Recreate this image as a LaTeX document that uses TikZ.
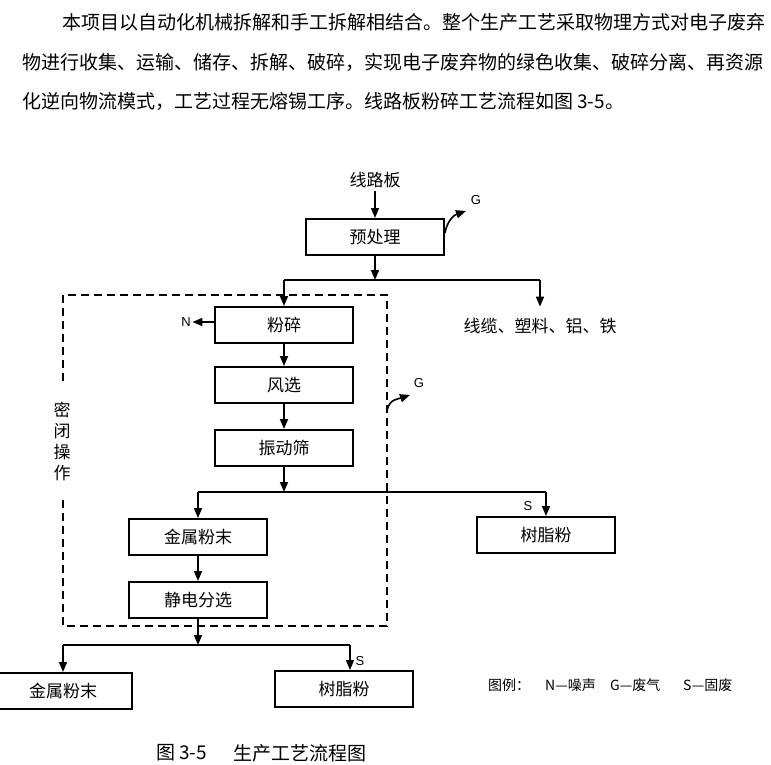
\documentclass[tikz,border=0pt]{standalone}
\usepackage{fontspec}
\setmainfont{Noto Sans CJK SC}
\newfontfamily\lat{Liberation Sans}
\usetikzlibrary{arrows.meta}
\begin{document}
\begin{tikzpicture}[x=1pt,y=-1pt]
  \tikzstyle{texte}=[anchor=west, inner sep=0pt, font=\fontsize{19}{19}\selectfont]
  \tikzstyle{boite}=[draw=black, line width=2pt, minimum width=138pt,
  minimum height=36pt, inner sep=0pt, font=\fontsize{17}{17}\selectfont]
  \tikzstyle{fleche}=[-{Triangle[length=10pt,width=8pt]}, line width=1.6pt]
  \tikzstyle{ligne}=[line width=1.2pt]
  \tikzstyle{pointille}=[line width=2pt, dash pattern=on 8pt off 5pt]
  \tikzstyle{marque}=[inner sep=1.5pt, font=\lat\fontsize{13}{13}\selectfont]
  \tikzstyle{legende}=[anchor=west, inner sep=0pt, font=\fontsize{14}{14}\selectfont]
  \useasboundingbox (0,0) rectangle (771,764);
  % texte du rapport
  \node[texte] (l1) at (62,22) {本项目以自动化机械拆解和手工拆解相结合。整个生产工艺采取物理方式对电子废弃};
  \node[texte] (l2) at (22,62) {物进行收集、运输、储存、拆解、破碎，实现电子废弃物的绿色收集、破碎分离、再资源};
  \node[texte] (l3) at (22,101) {化逆向物流模式，工艺过程无熔锡工序。线路板粉碎工艺流程如图 3-5。};
  % etapes
  \foreach \n/\x/\y/\t in {pre/375/237/预处理, fensui/284/325/粉碎,
    fengxuan/284/385/风选, zhendong/284/448/振动筛, jinshu/198/537/金属粉末,
    shuzhi/546/535/树脂粉, jingdian/198/600/静电分选,
    jinshu2/63/691/金属粉末, shuzhi2/344/689/树脂粉} {
    \node[boite] (\n) at (\x,\y) {\t};
  }
  \node[font=\fontsize{17}{17}\selectfont] (src) at (375,180) {线路板};
  \node[font=\fontsize{17}{17}\selectfont] (xianlan) at (540,326) {线缆、塑料、铝、铁};
  \node[align=center, font=\fontsize{17}{21}\selectfont] (mibi) at (62,441) {密\\闭\\操\\作};
  % zone fermee
  \draw[pointille] (63,381) -- (63,295) -- (387,295) -- (387,626) -- (63,626) -- (63,499);
  % embranchements
  \coordinate (h1) at (0,280);
  \coordinate (h2) at (0,492);
  \coordinate (h3) at (0,645);
  \coordinate (s3) at (350,645);
  \draw[fleche] (src) -- (pre);
  \draw[fleche] (pre) -- (pre |- h1);
  \draw[ligne] (fensui |- h1) -- (xianlan |- h1);
  \draw[fleche] (fensui |- h1) -- (fensui);
  \draw[fleche] (xianlan |- h1) -- ([yshift=8pt]xianlan.north);
  \foreach \a/\b in {fensui/fengxuan, fengxuan/zhendong, jinshu/jingdian} {
    \draw[fleche] (\a) -- (\b);
  }
  \draw[fleche] (zhendong) -- (zhendong |- h2);
  \draw[ligne] (jinshu |- h2) -- (shuzhi |- h2);
  \draw[fleche] (jinshu |- h2) -- (jinshu);
  \draw[fleche] (shuzhi |- h2) -- (shuzhi);
  \draw[fleche] (jingdian) -- (jingdian |- h3);
  \draw[ligne] (jinshu2 |- h3) -- (s3);
  \draw[fleche] (jinshu2 |- h3) -- (jinshu2);
  \draw[fleche] (s3) -- (s3 |- shuzhi2.north);
  % rejets
  \node[marque] (N) at (186,322) {N};
  \draw[fleche] (fensui.west |- N) -- (N.east);
  \node[marque] (G1) at (476,200) {G};
  \coordinate (g1) at (466,211);
  \draw[fleche] ([yshift=4pt]pre.east) .. controls +(2,-12) and +(-12,4) .. (g1);
  \node[marque] (G2) at (419,383) {G};
  \coordinate (g2a) at (387,411);
  \coordinate (g2) at (410,395);
  \draw[fleche] (g2a) .. controls +(2,-12) and +(-12,4) .. (g2);
  \node[marque] (S1) at (528,506) {S};
  \node[marque] (S2) at (360,661) {S};
  % legende
  \node[legende] (lg0) at (488,685) {图例：};
  \node[legende] (lg1) at (545,685) {N—噪声};
  \node[legende] (lg2) at (610,685) {G—废气};
  \node[legende] (lg3) at (683,685) {S—固废};
  \node[texte] (fig) at (156,753) {图 3-5};
  \node[texte] (titre) at (233,753) {生产工艺流程图};
\end{tikzpicture}
\end{document}
